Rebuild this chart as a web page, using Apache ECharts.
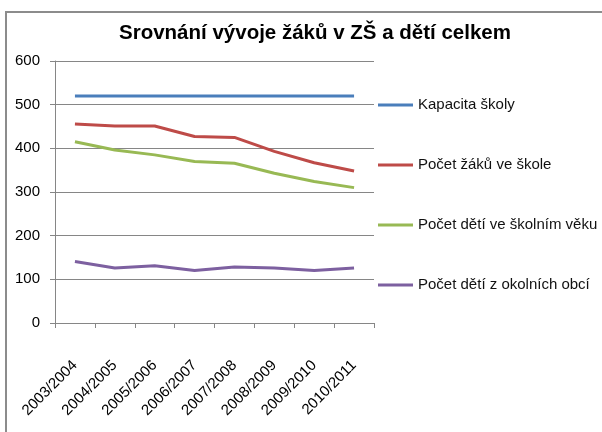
<!DOCTYPE html>
<html>
<head>
<meta charset="utf-8">
<script src="https://cdn.jsdelivr.net/npm/echarts@6/dist/echarts.min.js"></script>
<style>
  html, body { margin: 0; padding: 0; background: #fff; }
  #chart { width: 602px; height: 432px; }
</style>
</head>
<body>
<div id="chart"></div>
<script>
// school years on the x axis
const years = ['2003/2004', '2004/2005', '2005/2006', '2006/2007', '2007/2008', '2008/2009', '2009/2010', '2010/2011'];

// values
const kapacita = [520, 520, 520, 520, 520, 520, 520, 520];
const zaciSkola = [456, 451, 451, 427, 425, 393, 367, 348];
const detiVek = [415, 396, 385, 370, 366, 343, 324, 310];
const detiOkolni = [141, 126, 131, 120, 128, 126, 120, 126];

const yTicks = { min: 0, max: 600, interval: 100 };

const chart = echarts.init(document.getElementById('chart'));

const font = 'Liberation Sans, Arial, sans-serif';
const axisGray = '#868686';

const mkLine = (name, data, color) => ({
  name,
  type: 'line',
  data,
  symbol: 'none',
  smooth: false,
  lineStyle: { color, width: 3 },
  itemStyle: { color }
});

chart.setOption({
  animation: false,
  title: {
    text: 'Srovnání vývoje žáků v ZŠ a dětí celkem',
    left: 310,
    top: 18,
    textAlign: 'center',
    textStyle: { fontFamily: font, fontSize: 20.5, fontWeight: 'bold', color: '#000' }
  },
  graphic: [
    {
      type: 'rect',
      shape: { x: 6, y: 12, width: 700, height: 500 },
      style: { fill: 'none', stroke: '#8c8c8c', lineWidth: 2 },
      silent: true
    }
  ],
  legend: {
    orient: 'vertical',
    left: 378,
    top: 96,
    padding: 0,
    itemGap: 42,
    itemWidth: 35,
    itemHeight: 3,
    icon: 'rect',
    textStyle: { fontFamily: font, fontSize: 15, lineHeight: 18, color: '#111' },
    data: ['Kapacita školy', 'Počet žáků ve škole', 'Počet dětí ve školním věku', 'Počet dětí z okolních obcí']
  },
  grid: { left: 55, right: 228, top: 61, bottom: 109 },
  xAxis: {
    type: 'category',
    data: years,
    boundaryGap: true,
    axisLine: { lineStyle: { color: axisGray, width: 1 } },
    axisTick: { show: true, length: 5, lineStyle: { color: axisGray } },
    axisLabel: { rotate: 45, interval: 0, fontFamily: font, fontSize: 15, color: '#000', margin: 40 }
  },
  yAxis: {
    type: 'value',
    min: yTicks.min,
    max: yTicks.max,
    interval: yTicks.interval,
    axisLine: { show: true, lineStyle: { color: axisGray, width: 1 } },
    axisTick: { show: true, length: 5, lineStyle: { color: axisGray } },
    axisLabel: { fontFamily: font, fontSize: 15, color: '#000', margin: 15 },
    splitLine: { show: true, lineStyle: { color: axisGray, width: 1 } }
  },
  series: [
    mkLine('Kapacita školy', kapacita, '#4a7ebb'),
    mkLine('Počet žáků ve škole', zaciSkola, '#be4b48'),
    mkLine('Počet dětí ve školním věku', detiVek, '#98b954'),
    mkLine('Počet dětí z okolních obcí', detiOkolni, '#7d60a0')
  ]
});
</script>
</body>
</html>
